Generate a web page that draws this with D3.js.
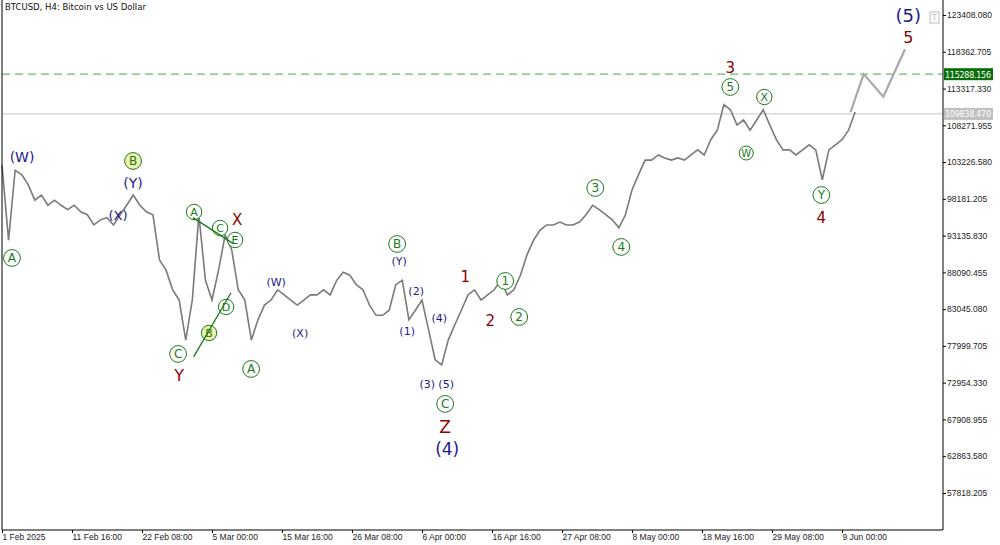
<!DOCTYPE html><html><head><meta charset="utf-8">
<script src="https://cdn.jsdelivr.net/npm/d3@7"></script>
<style>body{margin:0;background:#fff}svg{font-family:"DejaVu Sans",sans-serif}</style></head><body>
<script>
const startDate = new Date(2025,1,1);
const closes = [102800,92500,102100,101500,100100,98000,98700,97300,98000,97300,96700,97300,96400,96000,94600,95300,95600,94600,96000,97300,98700,97300,96400,96000,89800,88400,85700,84300,78800,84300,96000,87000,84300,88400,93200,91200,85700,84300,78800,81600,83600,84300,85700,85000,84300,83600,84300,85000,85000,85700,85000,87000,88100,87700,86400,85700,83600,82200,82200,82900,86400,87000,81600,82900,84300,80200,76100,75400,78800,80900,82900,85000,85700,84300,85000,85700,87000,85000,85700,87700,90500,92500,93900,94600,94600,95000,94600,94600,95000,96000,97300,96700,96000,95300,94200,96000,99400,101500,103500,103500,104200,103800,103500,103800,103500,104200,104900,104200,106300,107600,111100,110400,108300,109000,107600,109000,110400,108300,106300,104900,104900,104200,104900,105600,104900,100800,104900,105600,106300,107600,110100];
const projDays = [129.3, 131.3, 134.3, 137.6];
const projVals = [110100, 115300, 112200, 118700];
const yTicks = [123408.080,118362.705,113317.330,108271.955,103226.580,98181.205,93135.830,88090.455,83045.080,77999.705,72954.330,67908.955,62863.580,57818.205];
const xTickDays = [0,10.67,21.33,32,42.67,53.33,64,74.67,85.33,96,106.67,117.33,128];
const xTickLabels = ["1 Feb 2025","11 Feb 16:00","22 Feb 08:00","5 Mar 00:00","15 Mar 16:00","26 Mar 08:00","6 Apr 00:00","16 Apr 16:00","27 Apr 08:00","8 May 00:00","18 May 16:00","29 May 08:00","9 Jun 00:00"];
const levelGreen = 115288.156, levelBid = 109838.470;
const NAVY="#1a1a8c", RED="#8b0000", GRN="#1a7a1a";
const labels = [
[3.05,103900,"(W)",NAVY,0,14],[1.52,90070,"A",GRN,1,12],[19.97,103380,"B",GRN,1,12],[19.97,100360,"(Y)",NAVY,0,14],
[17.68,95970,"(X)",NAVY,0,13],[29.27,96380,"A",GRN,1,11],[35.82,95280,"X",RED,0,15],[33.23,94180,"C",GRN,1,11],
[35.52,92540,"E",GRN,1,11],[34.15,83350,"D",GRN,1,11],[31.55,79780,"B",GRN,1,11],[26.83,76900,"C",GRN,1,12],
[26.98,74020,"Y",RED,0,16],[37.96,74840,"A",GRN,1,12],[41.77,86780,"(W)",NAVY,0,11],[45.43,79780,"(X)",NAVY,0,11],
[60.21,91990,"B",GRN,1,12],[60.52,89660,"(Y)",NAVY,0,11],[63.11,85540,"(2)",NAVY,0,11],[61.74,80050,"(1)",NAVY,0,11],
[66.62,81840,"(4)",NAVY,0,11],[64.79,72780,"(3)",NAVY,0,11],[67.68,72780,"(5)",NAVY,0,11],[67.53,70040,"C",GRN,1,12],
[67.53,66880,"Z",RED,0,17],[67.84,63860,"(4)",NAVY,0,17],[70.58,87460,"1",RED,0,15],[74.39,81430,"2",RED,0,15],
[76.68,86910,"1",GRN,1,12],[78.81,81970,"2",GRN,1,12],[90.4,99670,"3",GRN,1,12],[94.36,91580,"4",GRN,1,12],
[110.98,116140,"3",RED,0,15],[110.98,113530,"5",GRN,1,12],[116.16,112160,"X",GRN,1,11],[113.41,104470,"W",GRN,1,10],
[124.85,98710,"Y",GRN,1,12],[124.85,95560,"4",RED,0,15],[138.1,123270,"(5)",NAVY,0,18],[138.1,120390,"5",RED,0,16]
];
const W=1000,H=545, L=2, R=943, B=530;
const svg=d3.select("body").append("svg").attr("width",W).attr("height",H);
const day=d=>new Date(startDate.getTime()+d*86400000);
const x=d3.scaleTime().domain([day(0),day(128)]).range([2,842]);
const y=d3.scaleLinear().domain([57818.205,123408.080]).range([493,15]);
const g=svg.append("g");
g.append("line").attr("x1",L).attr("x2",R).attr("y1",y(levelBid)).attr("y2",y(levelBid)).attr("stroke","#c8c8c8");
g.append("line").attr("x1",L).attr("x2",R).attr("y1",y(levelGreen)).attr("y2",y(levelGreen)).attr("stroke","#6ab96a").attr("stroke-width",1.2).attr("stroke-dasharray","8,5");
const line=d3.line().x(d=>x(day(d[0]))).y(d=>y(d[1]));
g.append("path").datum(closes.map((v,i)=>[i,v])).attr("d",line).attr("fill","none").attr("stroke","#7a7a7a").attr("stroke-width",1.6);
g.append("path").datum(projDays.map((d,i)=>[d,projVals[i]])).attr("d",line).attr("fill","none").attr("stroke","#a8a8a8").attr("stroke-width",2.2);
svg.append("path").attr("d",`M${L},0V${B}H${R}V0`).attr("fill","none").attr("stroke","#000");
const ya=svg.append("g").attr("transform",`translate(${R},0)`).call(d3.axisRight(y).tickValues(yTicks).tickSize(3).tickFormat(d3.format(".3f")));
ya.select(".domain").remove();ya.selectAll("text").attr("font-size",8.5).attr("fill","#222").attr("x",4);
const xa=svg.append("g").attr("transform",`translate(0,${B})`).call(d3.axisBottom(x).tickValues(xTickDays.map(day)).tickSize(3).tickFormat((d,i)=>xTickLabels[i]));
xa.select(".domain").remove();xa.selectAll("text").attr("font-size",8.5).attr("fill","#222").attr("text-anchor","start").attr("dy","0.5em");
[[levelGreen,"#0a6e0a","115288.156"],[levelBid,"#c0c0c0","109838.470"]].forEach(([v,c,t])=>{
 svg.append("rect").attr("x",R+1).attr("y",y(v)-6).attr("width",49).attr("height",12).attr("fill",c);
 svg.append("text").attr("x",R+2).attr("y",y(v)+3.5).attr("font-size",8).attr("textLength",46).attr("fill","#fff").text(t);
});
svg.append("rect").attr("x",930).attr("y",12).attr("width",9).attr("height",11).attr("fill","none").attr("stroke","#bbb");
svg.append("text").attr("x",934.5).attr("y",21).attr("font-size",8).attr("fill","#bbb").attr("text-anchor","middle").text("T");
svg.append("text").attr("x",5).attr("y",10).attr("font-size",8.5).attr("fill","#111").text("BTCUSD, H4:  Bitcoin vs US Dollar");
labels.forEach(([d,v,t,c,circ,s])=>{
 const cx=x(day(d)),cy=y(v);
 if(circ){svg.append("circle").attr("cx",cx).attr("cy",cy).attr("r",s*0.7).attr("fill",t==="B"&&d<32?"#f2f0b0":"#fff").attr("stroke",GRN).attr("stroke-width",1);}
 svg.append("text").attr("x",cx).attr("y",cy).attr("dy","0.36em").attr("text-anchor","middle").attr("font-size",s).attr("font-family","Verdana, DejaVu Sans, sans-serif").attr("fill",c).text(t);
});
svg.append("line").attr("x1",x(day(29.1))).attr("y1",y(95600)).attr("x2",x(day(35.3))).attr("y2",y(92000)).attr("stroke",GRN).attr("stroke-width",1.3);
svg.append("line").attr("x1",x(day(29.2))).attr("y1",y(76500)).attr("x2",x(day(34.9))).attr("y2",y(85300)).attr("stroke",GRN).attr("stroke-width",1.3);
</script></body></html>
